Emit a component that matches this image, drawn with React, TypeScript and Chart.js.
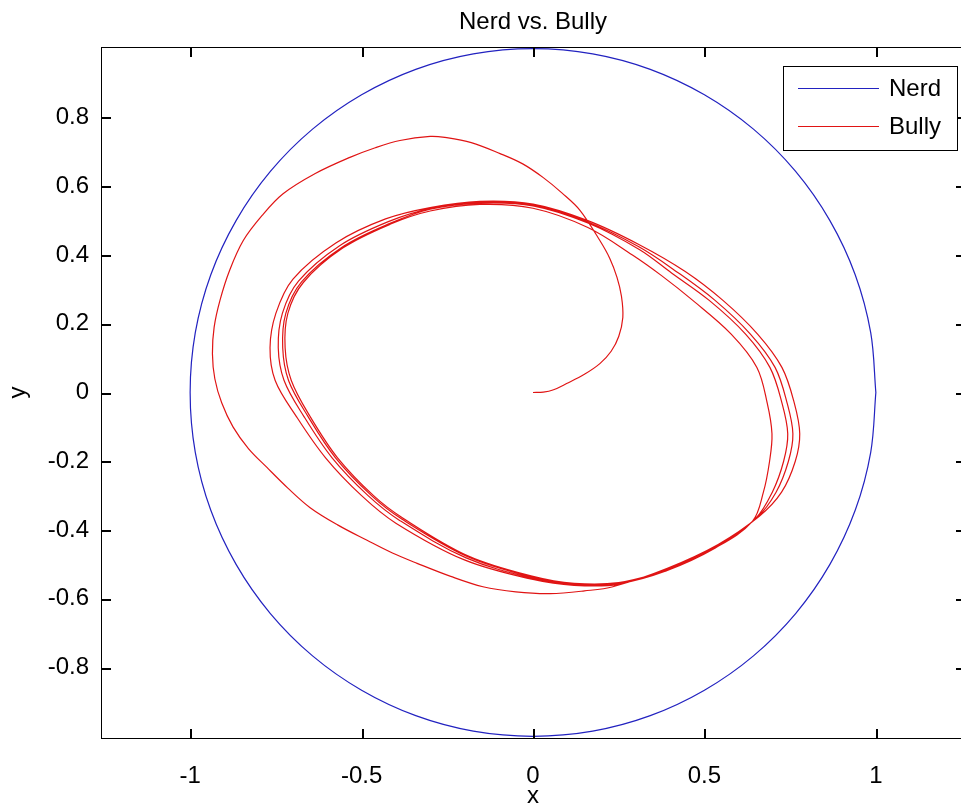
import React, { useEffect, useRef } from "react";
import { Chart, registerables } from "chart.js";

Chart.register(...registerables);

const FONT = "'Liberation Sans', Arial, Helvetica, sans-serif";

const TITLE = "Nerd vs. Bully";
const X_LABEL = "x";
const Y_LABEL = "y";
const X_TICKS = [-1, -0.5, 0, 0.5, 1];
const Y_TICKS = [-0.8, -0.6, -0.4, -0.2, 0, 0.2, 0.4, 0.6, 0.8];
const X_RANGE = [-1.26, 1.26];
const Y_RANGE = [-1.005, 1.005];

const SERIES_NAMES = ["Nerd", "Bully"];

// Nerd: unit circle
const NERD_X = [
  1, 0.985, 0.94, 0.866, 0.766, 0.643, 0.5, 0.342, 0.174, 0, -0.174, -0.342, -0.5,
  -0.643, -0.766, -0.866, -0.94, -0.985, -1, -0.985, -0.94, -0.866, -0.766, -0.643,
  -0.5, -0.342, -0.174, 0, 0.174, 0.342, 0.5, 0.643, 0.766, 0.866, 0.94, 0.985, 1,
];
const NERD_Y = [
  0, 0.174, 0.342, 0.5, 0.643, 0.766, 0.866, 0.94, 0.985, 1, 0.985, 0.94, 0.866,
  0.766, 0.643, 0.5, 0.342, 0.174, 0, -0.174, -0.342, -0.5, -0.643, -0.766, -0.866,
  -0.94, -0.985, -1, -0.985, -0.94, -0.866, -0.766, -0.643, -0.5, -0.342, -0.174, 0,
];

// Bully: initial outward spiral
const BULLY_START_X = [
  0, 0.03, 0.06, 0.098, 0.15, 0.195, 0.228, 0.25, 0.262, 0.258, 0.245, 0.224, 0.195,
  0.137, 0.085, 0.03, -0.03, -0.096, -0.18, -0.257, -0.3, -0.388, -0.46, -0.534, -0.635,
  -0.729, -0.79, -0.845, -0.885, -0.913, -0.93, -0.935, -0.928, -0.908, -0.875, -0.83,
  -0.776, -0.715, -0.65, -0.57, -0.484, -0.41, -0.338, -0.24, -0.146, -0.05, 0.05, 0.15,
  0.233,
];
const BULLY_START_Y = [
  0, 0.001, 0.008, 0.026, 0.053, 0.084, 0.12, 0.163, 0.218, 0.28, 0.335, 0.39, 0.442,
  0.53, 0.58, 0.625, 0.665, 0.695, 0.727, 0.742, 0.745, 0.733, 0.712, 0.684, 0.637,
  0.578, 0.515, 0.442, 0.355, 0.268, 0.19, 0.113, 0.04, -0.03, -0.1, -0.163, -0.218,
  -0.278, -0.335, -0.385, -0.43, -0.467, -0.497, -0.535, -0.565, -0.58, -0.585, -0.577,
  -0.565,
];

// Bully: the four loops of the settled orbit
const BULLY_LOOP1_X = [
  0.39, 0.54, 0.66, 0.725, 0.765, 0.778, 0.762, 0.726, 0.655, 0.554, 0.444, 0.31, 0.16, 0,
  -0.155, -0.3, -0.43, -0.575, -0.7, -0.75, -0.767, -0.752, -0.69, -0.605, -0.5, -0.4,
  -0.2, 0, 0.12, 0.25,
];
const BULLY_LOOP1_Y = [
  -0.512, -0.442, -0.36, -0.29, -0.2, -0.12, -0.03, 0.073, 0.17, 0.268, 0.352, 0.43, 0.5,
  0.548, 0.556, 0.538, 0.505, 0.435, 0.33, 0.23, 0.13, 0.035, -0.07, -0.19, -0.3, -0.38,
  -0.487, -0.544, -0.561, -0.558,
];
const BULLY_LOOP2_X = [
  0.39, 0.537, 0.652, 0.709, 0.745, 0.758, 0.741, 0.706, 0.634, 0.531, 0.421, 0.31, 0.16,
  0, -0.155, -0.3, -0.422, -0.564, -0.684, -0.731, -0.743, -0.726, -0.668, -0.586, -0.481,
  -0.389, -0.195, 0, 0.12, 0.25,
];
const BULLY_LOOP2_Y = [
  -0.514, -0.446, -0.365, -0.29, -0.2, -0.12, -0.03, 0.073, 0.17, 0.268, 0.35, 0.423,
  0.496, 0.545, 0.553, 0.535, 0.497, 0.427, 0.324, 0.23, 0.13, 0.035, -0.07, -0.19, -0.3,
  -0.372, -0.481, -0.541, -0.559, -0.557,
];
const BULLY_LOOP3_X = [
  0.39, 0.535, 0.648, 0.698, 0.731, 0.743, 0.726, 0.691, 0.62, 0.514, 0.405, 0.31, 0.16,
  0, -0.155, -0.3, -0.417, -0.558, -0.675, -0.721, -0.73, -0.713, -0.656, -0.576, -0.471,
  -0.383, -0.192, 0, 0.12, 0.25,
];
const BULLY_LOOP3_Y = [
  -0.515, -0.449, -0.368, -0.29, -0.2, -0.12, -0.03, 0.073, 0.17, 0.268, 0.347, 0.416,
  0.493, 0.543, 0.551, 0.533, 0.492, 0.422, 0.322, 0.23, 0.13, 0.035, -0.07, -0.19, -0.3,
  -0.368, -0.477, -0.538, -0.558, -0.556,
];
const BULLY_LOOP4_X = [
  0.39, 0.532, 0.64, 0.672, 0.69, 0.697, 0.683, 0.653, 0.578, 0.466, 0.375, 0.29, 0.16, 0,
  -0.155, -0.3, -0.415, -0.555, -0.67, -0.715, -0.723, -0.705, -0.65, -0.57, -0.465,
  -0.38, -0.19, 0, 0.12, 0.25, 0.39,
];
const BULLY_LOOP4_Y = [
  -0.518, -0.452, -0.375, -0.29, -0.2, -0.12, -0.03, 0.073, 0.17, 0.268, 0.34, 0.4, 0.48,
  0.536, 0.547, 0.528, 0.49, 0.42, 0.32, 0.23, 0.13, 0.035, -0.07, -0.19, -0.3, -0.365,
  -0.475, -0.535, -0.555, -0.553, -0.519,
];

const BULLY_X = [
  ...BULLY_START_X,
  ...BULLY_LOOP1_X,
  ...BULLY_LOOP2_X,
  ...BULLY_LOOP3_X,
  ...BULLY_LOOP4_X,
];
const BULLY_Y = [
  ...BULLY_START_Y,
  ...BULLY_LOOP1_Y,
  ...BULLY_LOOP2_Y,
  ...BULLY_LOOP3_Y,
  ...BULLY_LOOP4_Y,
];

const toPoints = (xs: number[], ys: number[]) => xs.map((x, i) => ({ x, y: ys[i] }));

const axesBoxPlugin = {
  id: "matlabAxesBox",
  afterDraw(chart: any) {
    const { ctx, chartArea } = chart;
    const xScale = chart.scales.x;
    const yScale = chart.scales.y;
    const left = Math.round(chartArea.left);
    const right = Math.round(chartArea.right);
    const top = Math.round(chartArea.top);
    const bottom = Math.round(chartArea.bottom);
    const len = 9;
    const lw = 2;
    ctx.save();
    ctx.fillStyle = "#000000";
    ctx.fillRect(left, top, right - left + 1, 1);
    ctx.fillRect(left, bottom, right - left + 1, 1);
    ctx.fillRect(left, top, 1, bottom - top + 1);
    ctx.fillRect(right, top, 1, bottom - top + 1);
    for (const v of X_TICKS) {
      const px = Math.round(xScale.getPixelForValue(v));
      ctx.fillRect(px, bottom - len, lw, len);
      ctx.fillRect(px, top + 1, lw, len);
    }
    for (const v of Y_TICKS) {
      const py = Math.round(yScale.getPixelForValue(v));
      ctx.fillRect(left + 1, py, len, lw);
      ctx.fillRect(right - len, py, len, lw);
    }
    ctx.restore();
  },
};

const legendBoxPlugin = {
  id: "matlabLegend",
  afterDraw(chart: any) {
    const { ctx, chartArea } = chart;
    const w = 174;
    const h = 84;
    const bx = Math.round(chartArea.right - 8 - w);
    const by = Math.round(chartArea.top + 19);
    ctx.save();
    ctx.fillStyle = "#fff";
    ctx.fillRect(bx, by, w, h);
    ctx.strokeStyle = "#000";
    ctx.lineWidth = 1;
    ctx.strokeRect(bx + 0.5, by + 0.5, w, h);
    chart.data.datasets.forEach((ds: any, i: number) => {
      const y = by + 22 + i * 38;
      ctx.strokeStyle = ds.borderColor;
      ctx.lineWidth = 1.2;
      ctx.beginPath();
      ctx.moveTo(bx + 15, y + 0.5);
      ctx.lineTo(bx + 96, y + 0.5);
      ctx.stroke();
      ctx.fillStyle = "#000";
      ctx.font = `24px ${FONT}`;
      ctx.textAlign = "left";
      ctx.textBaseline = "middle";
      ctx.fillText(ds.label, bx + 106, y + 1);
    });
    ctx.restore();
  },
};

export default function App() {
  const canvasRef = useRef<HTMLCanvasElement | null>(null);

  useEffect(() => {
    const canvas = canvasRef.current;
    if (!canvas) return;
    const chart = new Chart(canvas, {
      type: "scatter",
      data: {
        datasets: [
          {
            label: SERIES_NAMES[0],
            data: toPoints(NERD_X, NERD_Y),
            showLine: true,
            borderColor: "#2222c0",
            borderWidth: 1.2,
            pointRadius: 0,
            tension: 0.35,
            fill: false,
          },
          {
            label: SERIES_NAMES[1],
            data: toPoints(BULLY_X, BULLY_Y),
            showLine: true,
            borderColor: "#e01414",
            borderWidth: 1.2,
            pointRadius: 0,
            tension: 0.35,
            fill: false,
          },
        ],
      },
      options: {
        animation: false,
        responsive: false,
        devicePixelRatio: 1,
        layout: { padding: { left: 0, right: 10, top: 0, bottom: 0 } },
        plugins: {
          legend: { display: false },
          tooltip: { enabled: false },
          title: {
            display: true,
            text: TITLE,
            color: "#000",
            fullSize: false,
            font: { family: FONT, size: 24, weight: "normal" },
            padding: { top: 7.6, bottom: 10.6 },
          },
        },
        scales: {
          x: {
            type: "linear",
            position: "bottom",
            min: X_RANGE[0],
            max: X_RANGE[1],
            grid: { display: false, drawTicks: false },
            border: { display: false },
            afterBuildTicks: (scale: any) => {
              scale.ticks = X_TICKS.map((v) => ({ value: v }));
            },
            afterFit: (scale: any) => {
              scale.height = 68;
            },
            ticks: {
              color: "#000",
              padding: 24,
              maxRotation: 0,
              autoSkip: false,
              font: { family: FONT, size: 24 },
              callback: (v: any) => String(v),
            },
            title: {
              display: true,
              text: X_LABEL,
              color: "#000",
              font: { family: FONT, size: 24, lineHeight: 0.9 },
              padding: { top: 0, bottom: -1 },
            },
          },
          y: {
            type: "linear",
            position: "left",
            min: Y_RANGE[0],
            max: Y_RANGE[1],
            grid: { display: false, drawTicks: false },
            border: { display: false },
            afterBuildTicks: (scale: any) => {
              scale.ticks = Y_TICKS.map((v) => ({ value: v }));
            },
            afterFit: (scale: any) => {
              scale.width = 101;
            },
            ticks: {
              color: "#000",
              padding: 12,
              autoSkip: false,
              font: { family: FONT, size: 24 },
              callback: (v: any) => String(v),
            },
            title: {
              display: true,
              text: Y_LABEL,
              color: "#000",
              font: { family: FONT, size: 24, lineHeight: 0.9 },
              padding: { top: 8, bottom: 0 },
            },
          },
        },
      },
      plugins: [axesBoxPlugin, legendBoxPlugin],
    });
    return () => chart.destroy();
  }, []);

  return (
    <div
      style={{
        position: "fixed",
        left: 0,
        top: 0,
        width: 961,
        height: 806,
        overflow: "hidden",
        background: "#fff",
      }}
    >
      <canvas
        ref={canvasRef}
        width={975}
        height={806}
        style={{ display: "block", width: 975, height: 806 }}
      />
    </div>
  );
}
